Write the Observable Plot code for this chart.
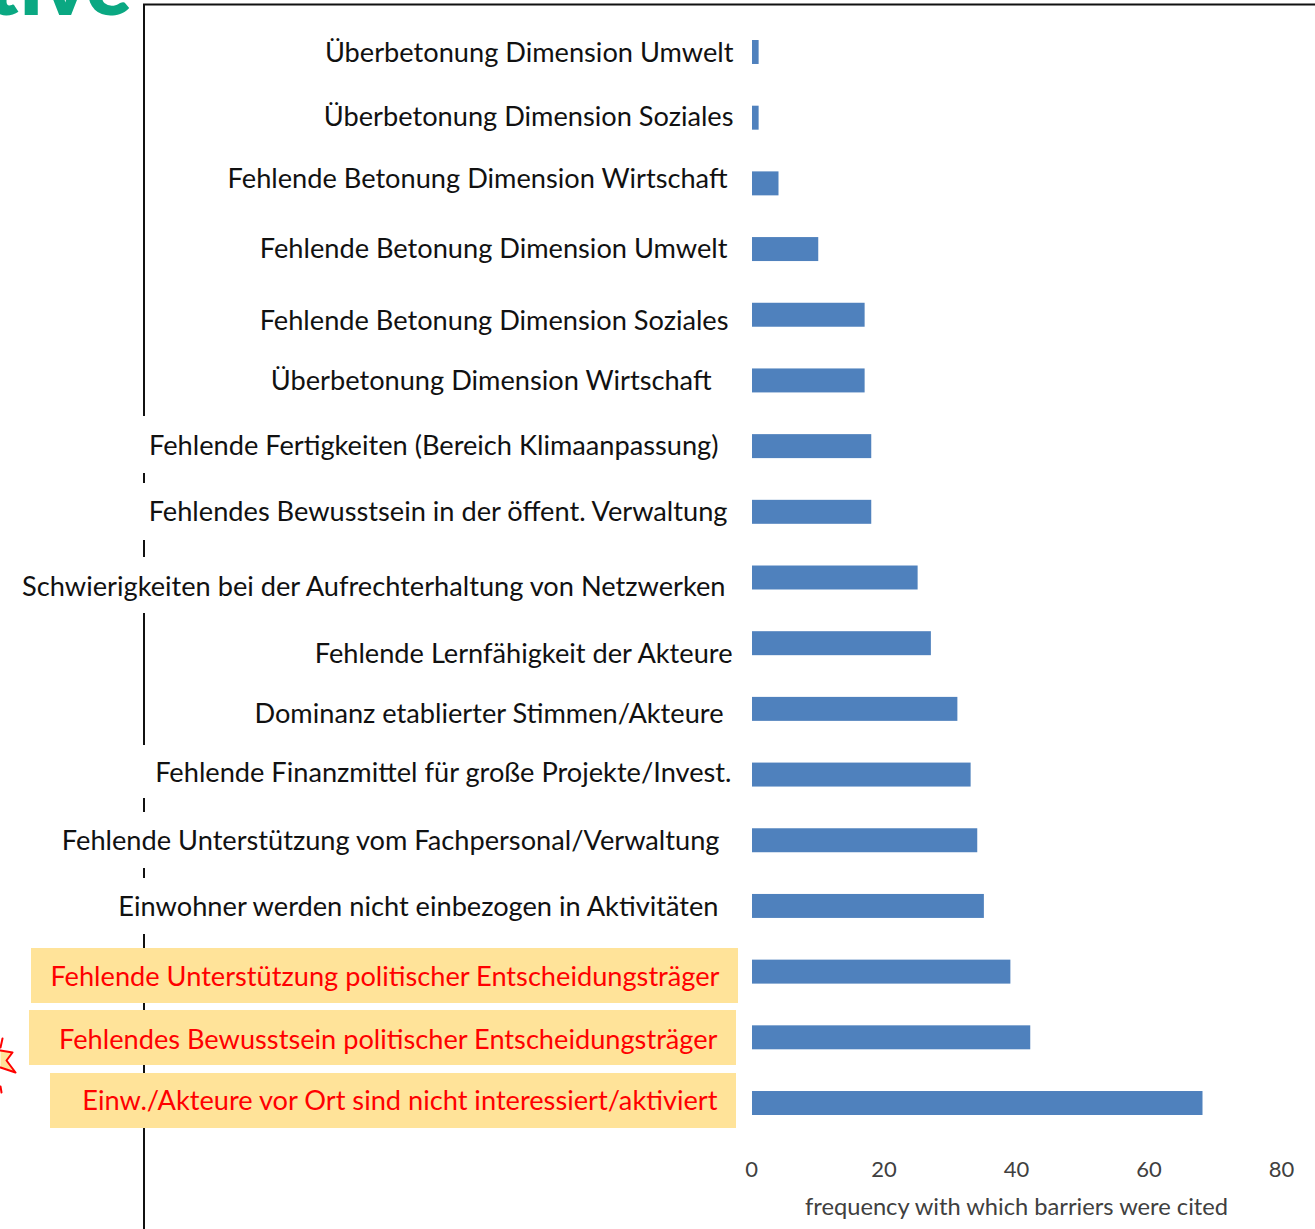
<!DOCTYPE html>
<html><head><meta charset="utf-8">
<script src="https://cdn.jsdelivr.net/npm/d3@7"></script>
<script src="https://cdn.jsdelivr.net/npm/@observablehq/plot@0.6"></script>
<style>
html,body{margin:0;padding:0;background:#fff;overflow:hidden}
#stage{position:relative;width:1315px;height:1229px}
#stage svg{position:absolute;left:0;top:0;background:transparent}
</style></head><body><div id="stage"></div>
<script>
const barriers = [
 "Überbetonung Dimension Umwelt","Überbetonung Dimension Soziales","Fehlende Betonung Dimension Wirtschaft",
 "Fehlende Betonung Dimension Umwelt","Fehlende Betonung Dimension Soziales","Überbetonung Dimension Wirtschaft",
 "Fehlende Fertigkeiten (Bereich Klimaanpassung)","Fehlendes Bewusstsein in der öffent. Verwaltung",
 "Schwierigkeiten bei der Aufrechterhaltung von Netzwerken","Fehlende Lernfähigkeit der Akteure",
 "Dominanz etablierter Stimmen/Akteure","Fehlende Finanzmittel für große Projekte/Invest.",
 "Fehlende Unterstützung vom Fachpersonal/Verwaltung","Einwohner werden nicht einbezogen in Aktivitäten",
 "Fehlende Unterstützung politischer Entscheidungsträger","Fehlendes Bewusstsein politischer Entscheidungsträger",
 "Einw./Akteure vor Ort sind nicht interessiert/aktiviert"];
const citations = [1,1,4,10,17,17,18,18,25,27,31,33,34,35,39,42,68];
const xTicks = [0,20,40,60,80];
const axisTitle = "frequency with which barriers were cited";
const highlighted = barriers.slice(-3);

// layout of the hand-placed labels
const labelDx = [-19,-19,-25,-25,-24,-41,-34,-25,-27,-20,-29,-21,-33,-34,-33,-35,-35];
const labelDy = [1,-1,-5,0,6,0,0,0,9,11,5,-2,1,1,5,2,-2];
const rows = barriers.map((b,i)=>({b,v:citations[i],dx:labelDx[i],dy:labelDy[i]}));

const FONT = "Lato, 'Open Sans', sans-serif";
const frameSegments = [[4,416],[473,483],[540,557],[613,745],[798,812],[868,878],[934,948],[1003,1010],[1065,1073],[1128,1229]];
const boxes = [[31,738,948,1003],[29,736,1010,1065],[50,736,1073,1128]];
const star = [[0,1050],[12,1052],[6,1060],[15,1072],[0,1067]];
const starTop = [[0,1047],[2,1038]];
const starLow = [[0,1086],[1,1092]];

const under = Plot.plot({
  width:1315,height:1229,margin:0,
  x:{type:"identity",axis:null},y:{type:"identity",axis:null},
  marks:[
    Plot.ruleY([4],{x1:143,x2:1315,stroke:"#111",strokeWidth:2}),
    Plot.ruleX(frameSegments,{x:()=>143.5,y1:d=>d[0],y2:d=>d[1],stroke:"#111",strokeWidth:2}),
    Plot.rect(boxes,{x1:d=>d[0],x2:d=>d[1],y1:d=>d[2],y2:d=>d[3],fill:"#ffe399"}),
    Plot.line(star,{x:d=>d[0],y:d=>d[1],stroke:"#f00",strokeWidth:2,fill:"#ffe399",curve:"linear"}),
    Plot.line(starTop,{x:d=>d[0],y:d=>d[1],stroke:"#f00",strokeWidth:2}),
    Plot.line(starLow,{x:d=>d[0],y:d=>d[1],stroke:"#f00",strokeWidth:2}),
    Plot.text(["tive"],{x:()=>131,y:()=>14,text:d=>d,textAnchor:"end",lineAnchor:"bottom",fill:"#0aa882",fontSize:84,fontWeight:800,fontFamily:FONT})
  ]
});

const main = Plot.plot({
  width:1315,height:1229,
  marginLeft:0,marginRight:0,marginTop:0,marginBottom:0,
  x:{domain:[0,80],range:[752,1282],axis:null},
  y:{domain:barriers,range:[19.15,1135.85],paddingInner:0.635,paddingOuter:0.3175,align:0.5,round:false,axis:null},
  marks:[
    Plot.ruleX(xTicks,{x:d=>d,y1:()=>18,y2:()=>1137,stroke:"#d9d9d9",strokeWidth:1.3,strokeOpacity:1}),
    Plot.barX(rows,{x:"v",y:"b",fill:"#4f81bd"}),
    ...rows.map(r=>Plot.text([r],{
      x:()=>0,y:"b",text:"b",textAnchor:"end",dx:r.dx,dy:r.dy,fontSize:27.2,fontFamily:FONT,
      fill:highlighted.includes(r.b)?"#f00":"#111"})),
    Plot.text(xTicks,{x:d=>d,frameAnchor:"bottom",dy:-53,dx:-1,text:d=>String(d),fontSize:22,fontFamily:FONT,fill:"#404040"}),
    Plot.text([axisTitle],{x:()=>40,frameAnchor:"bottom",dy:-15,dx:-1,text:d=>d,fontSize:23.7,fontFamily:FONT,fill:"#404040"})
  ]
});
document.getElementById("stage").append(under,main);
</script></body></html>
